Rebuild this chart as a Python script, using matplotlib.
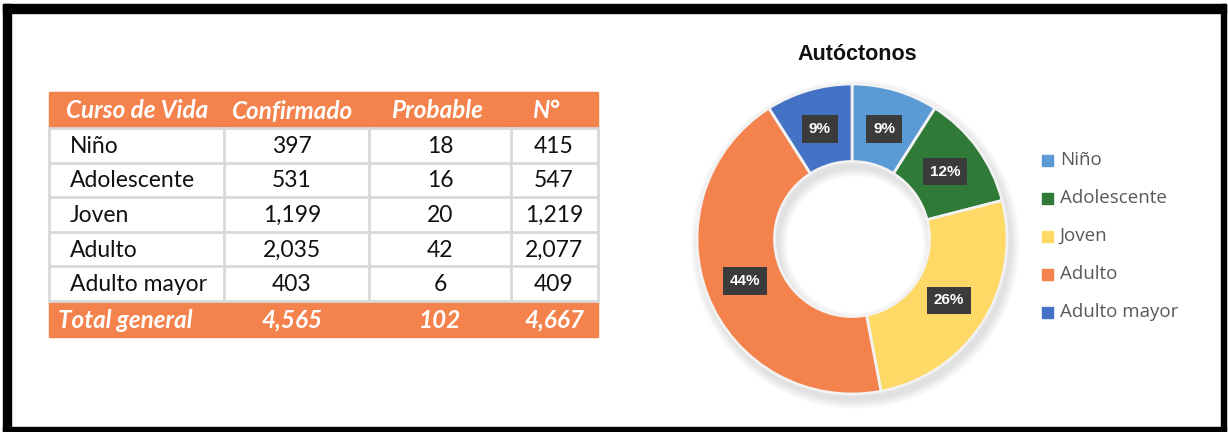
import matplotlib
matplotlib.use("Agg")
import matplotlib.pyplot as plt
from matplotlib.patches import Rectangle
import numpy as np

# table data
grupos = ['Niño', 'Adolescente', 'Joven', 'Adulto', 'Adulto mayor']
confirmado = [397, 531, 1199, 2035, 403]
probable = [18, 16, 20, 42, 6]
total_n = [415, 547, 1219, 2077, 409]
encabezados = ['Curso de Vida', 'Confirmado', 'Probable', 'N°']

# donut data (percentages as printed on the chart)
porcentajes = [9, 12, 26, 44, 9]
colores = ['#5B9BD5', '#2E7A36', '#FFD966', '#F4824C', '#4472C4']

naranja = '#F4824C'
gris = '#D9D9D9'

fig = plt.figure(figsize=(12.28, 4.32), dpi=100)
bg = fig.add_axes([0, 0, 1, 1])
bg.set_xlim(0, 1228)
bg.set_ylim(432, 0)
bg.axis('off')

# black frame
bg.add_patch(Rectangle((3, 4), 1223, 9, color='black'))
bg.add_patch(Rectangle((3, 4), 8, 427, color='black'))
bg.add_patch(Rectangle((1221, 4), 5, 427, color='black'))
bg.add_patch(Rectangle((3, 427), 1223, 4, color='black'))

# ---- table ----
col_x = [49, 224, 369, 511, 598]
col_c = [70, 292, 440, 554]
top, head_h, row_h = 92, 36, 34.6
n = len(grupos)
body_top = top + head_h
body_bot = body_top + n * row_h

bg.add_patch(Rectangle((col_x[0], top), col_x[-1] - col_x[0], head_h, color=naranja))
bg.add_patch(Rectangle((col_x[0], body_bot), col_x[-1] - col_x[0], 36, color=naranja))

for i in range(n + 1):
    y = body_top + i * row_h
    bg.plot([col_x[0], col_x[-1]], [y, y], color=gris, lw=2, zorder=2)
for x in col_x:
    bg.plot([x, x], [body_top, body_bot], color=gris, lw=2, zorder=2)

fnt = 'Lato'
hdr = dict(ha='center', va='center', color='white', fontsize=17.5, fontweight='bold',
           fontstyle='italic', family=fnt)
head_x = [137, 292, 437, 546]
for j, h in enumerate(encabezados):
    bg.text(head_x[j], top + head_h / 2 + 1, h, **hdr)

body = dict(va='center', fontsize=16.5, family=fnt, color='#111111')
for i in range(n):
    y = body_top + (i + 0.5) * row_h + 1
    bg.text(col_c[0], y, grupos[i], ha='left', **body)
    bg.text(col_c[1], y, f'{confirmado[i]:,}', ha='center', **body)
    bg.text(col_c[2], y, f'{probable[i]:,}', ha='center', **body)
    bg.text(col_c[3], y, f'{total_n[i]:,}', ha='center', **body)

yt = body_bot + 18 + 1
bg.text(125, yt, 'Total general', **hdr)
bg.text(col_c[1], yt, f'{sum(confirmado):,}', **hdr)
bg.text(col_c[2], yt, f'{sum(probable):,}', **hdr)
bg.text(col_c[3], yt, f'{sum(total_n):,}', **hdr)

# ---- donut ----
cx, cy, r = 852, 239, 155
ax = fig.add_axes([(cx - r) / 1228, (432 - cy - r) / 432, 2 * r / 1228, 2 * r / 432])

# soft shadow
for k in range(5):
    ax.pie(porcentajes, radius=1.0 + 0.012 * (k + 1), startangle=90, counterclock=False,
           colors=['black'] * n, center=(0.02, -0.035),
           wedgeprops=dict(width=0.5 + 0.024 * (k + 1), alpha=0.025, linewidth=0))

wedges, _ = ax.pie(porcentajes, radius=1.0, startangle=90, counterclock=False, colors=colores,
                   wedgeprops=dict(width=0.5, edgecolor='#F2F2F2', linewidth=2))
ax.set_xlim(-1, 1)
ax.set_ylim(-1, 1)
ax.axis('off')

tot = sum(porcentajes)
ang0 = 90
for v in porcentajes:
    frac = v / tot
    mid = np.deg2rad(ang0 - frac * 360 / 2)
    ang0 -= frac * 360
    ax.text(0.74 * np.cos(mid), 0.74 * np.sin(mid), f'{v}%', ha='center', va='center',
            color='white', fontsize=11, fontweight='bold', family='Liberation Sans',
            bbox=dict(boxstyle='square,pad=0.45', fc='#3B3B3B', ec='none'))

# title
bg.text(857, 54, 'Autóctonos', ha='center', va='center', fontsize=15.5, fontweight='bold',
        family='Liberation Sans', color='#111111')

# legend
for i, g in enumerate(grupos):
    y = 160 + i * 38
    bg.add_patch(Rectangle((1042, y - 5.5), 11, 11, color=colores[i]))
    bg.text(1060, y, g, ha='left', va='center', fontsize=13.5, family='Open Sans', color='#595959')

fig.savefig('out.png', dpi=100)
